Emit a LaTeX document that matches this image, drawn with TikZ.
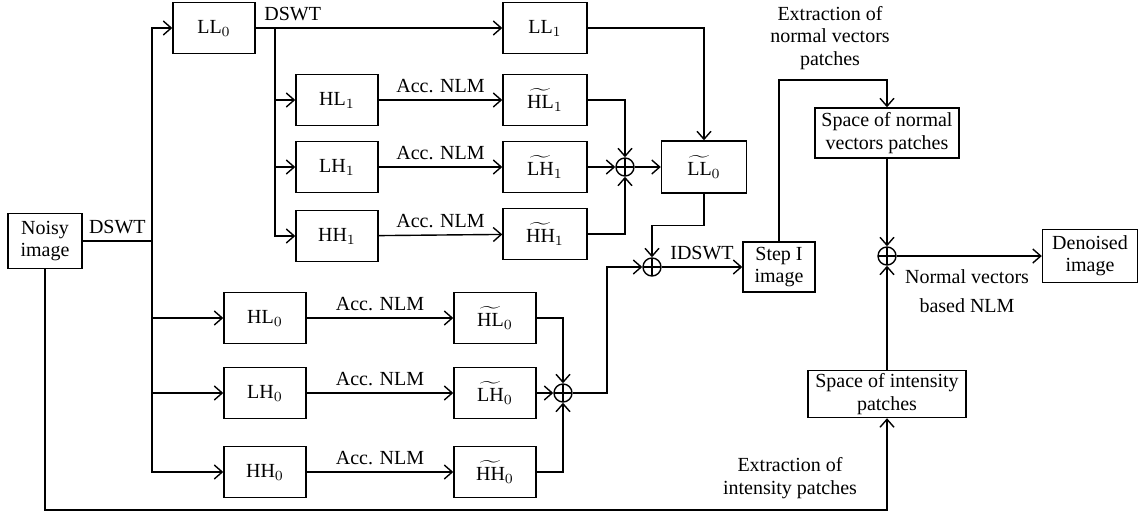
\documentclass[tikz,border=0pt]{standalone}
\usepackage{amsmath}
\usepackage{fontspec}
\setmainfont{Liberation Serif}
\usepackage{tikz}
\usetikzlibrary{
  arrows.meta,
  positioning,
  calc
}
\newcommand{\tl}[2]{$\widetilde{\text{#1}}_{#2}$}

\begin{document}
\begin{tikzpicture}[x=0.5pt, y=-0.5pt, line width=0.7pt,
    every node/.style={font=\fontsize{10}{11.2}\selectfont},
    blk/.style={draw, align=center, minimum width=41pt, minimum height=25.5pt, inner sep=1pt},
    sumnode/.style={circle, draw, minimum size=9pt, inner sep=0pt,
      path picture={\draw (path picture bounding box.north) -- (path picture bounding box.south)
        (path picture bounding box.west) -- (path picture bounding box.east);}},
    >={Straight Barb[length=4pt,width=7pt]}]
            \useasboundingbox (0,0) rectangle (1140,515);

            % Input and first level
            \node[blk, minimum width=37pt, minimum height=27.5pt] (noisy) at (45,241) {Noisy\\image};
            \node[blk] (ll0) at (214,28) {LL$_0$};
            \node[blk, minimum width=42pt] (ll1) at (545,28) {LL$_1$};

            % Second level detail bands
            \node[blk] (hl1) at (337,100) {HL$_1$};
            \node[blk] (lh1) at (337,167) {LH$_1$};
            \node[blk] (hh1) at (337,236) {HH$_1$};
            \node[blk, minimum width=42pt] (hl1t) at (545,100) {\tl{HL}{1}};
            \node[blk, minimum width=42pt] (lh1t) at (545,167) {\tl{LH}{1}};
            \node[blk, minimum width=42pt] (hh1t) at (545,234) {\tl{HH}{1}};
            \node[sumnode] (sum1) at (625,167) {};
            \node[blk, minimum width=42.5pt, minimum height=26pt] (ll0t) at (704,167) {\tl{LL}{0}};

            % First level detail bands
            \node[blk] (hl0) at (265,318) {HL$_0$};
            \node[blk] (lh0) at (265,393) {LH$_0$};
            \node[blk] (hh0) at (265,472) {HH$_0$};
            \node[blk] (hl0t) at (495,318) {\tl{HL}{0}};
            \node[blk] (lh0t) at (495,393) {\tl{LH}{0}};
            \node[blk] (hh0t) at (495,472) {\tl{HH}{0}};
            \node[sumnode] (sum4) at (563,393) {};

            % Reconstruction and second step
            \node[sumnode] (sum2) at (652,267) {};
            \node[blk, minimum width=36pt, minimum height=25pt] (step) at (779,267) {Step I\\image};
            \node[blk, minimum width=72pt, minimum height=25pt] (spn) at (887,133) {Space of normal\\vectors patches};
            \node[sumnode] (sum3) at (887,256) {};
            \node[blk, minimum width=47.5pt, minimum height=26.5pt] (den) at (1090,256) {Denoised\\image};
            \node[blk, minimum width=79pt, minimum height=23.5pt] (spi) at (887,394) {Space of intensity\\patches};

            % Free labels
            \node[align=center] (lblx1) at (830,38) {Extraction of\\normal vectors\\patches};
            \node[align=center] (lblnv) at (967,291) {Normal vectors\\[3pt]based NLM};
            \node[align=center] (lblx2) at (790,478) {Extraction of\\intensity patches};

            % Bend points
            \coordinate (s1) at (152,241);
            \coordinate (s2) at (275,28);
            \coordinate (j2) at (607,393);
            \coordinate (tn) at (887,80);
            \coordinate (bl) at (45,510);

            % Decomposition
            \draw (noisy) -- node[above] {DSWT} (s1);
            \draw[->] (s1) |- (ll0);
            \draw[->] (s1) |- (hl0);
            \draw[->] (s1) |- (lh0);
            \draw[->] (s1) |- (hh0);
            \draw[->] (ll0) -- node[pos=0.15, above] {DSWT} (ll1);
            \draw[->] (s2) |- (hl1);
            \draw[->] (s2) |- (lh1);
            \draw[->] (s2) |- (hh1);

            % Filtering
            \draw[->] (hl1) -- node[above] {Acc. NLM} (hl1t);
            \draw[->] (lh1) -- node[above] {Acc. NLM} (lh1t);
            \draw[->] (hh1) -- node[above] {Acc. NLM} (hh1t);
            \draw[->] (hl0) -- node[above] {Acc. NLM} (hl0t);
            \draw[->] (lh0) -- node[above] {Acc. NLM} (lh0t);
            \draw[->] (hh0) -- node[above] {Acc. NLM} (hh0t);

            % Sums
            \draw[->] (hl1t) -| (sum1);
            \draw[->] (lh1t) -- (sum1);
            \draw[->] (hh1t) -| (sum1);
            \draw[->] (sum1) -- (ll0t);
            \draw[->] (ll1) -| (ll0t);
            \draw[->] (hl0t) -| (sum4);
            \draw[->] (lh0t) -- (sum4);
            \draw[->] (hh0t) -| (sum4);
            \draw[->] (ll0t.south) -- ++(0,32) -| (sum2);
            \draw[->] (sum4) -- (j2) |- (sum2);
            \draw[->] (sum2) -- node[above] {IDSWT} (step);

            % Second step
            \draw[->] (step) |- (tn) -- (spn);
            \draw[->] (spn) -- (sum3);
            \draw[->] (spi) -- (sum3);
            \draw[->] (sum3) -- (den);
            \draw[->] (noisy) -- (bl) -| (spi);
\end{tikzpicture}
\end{document}
